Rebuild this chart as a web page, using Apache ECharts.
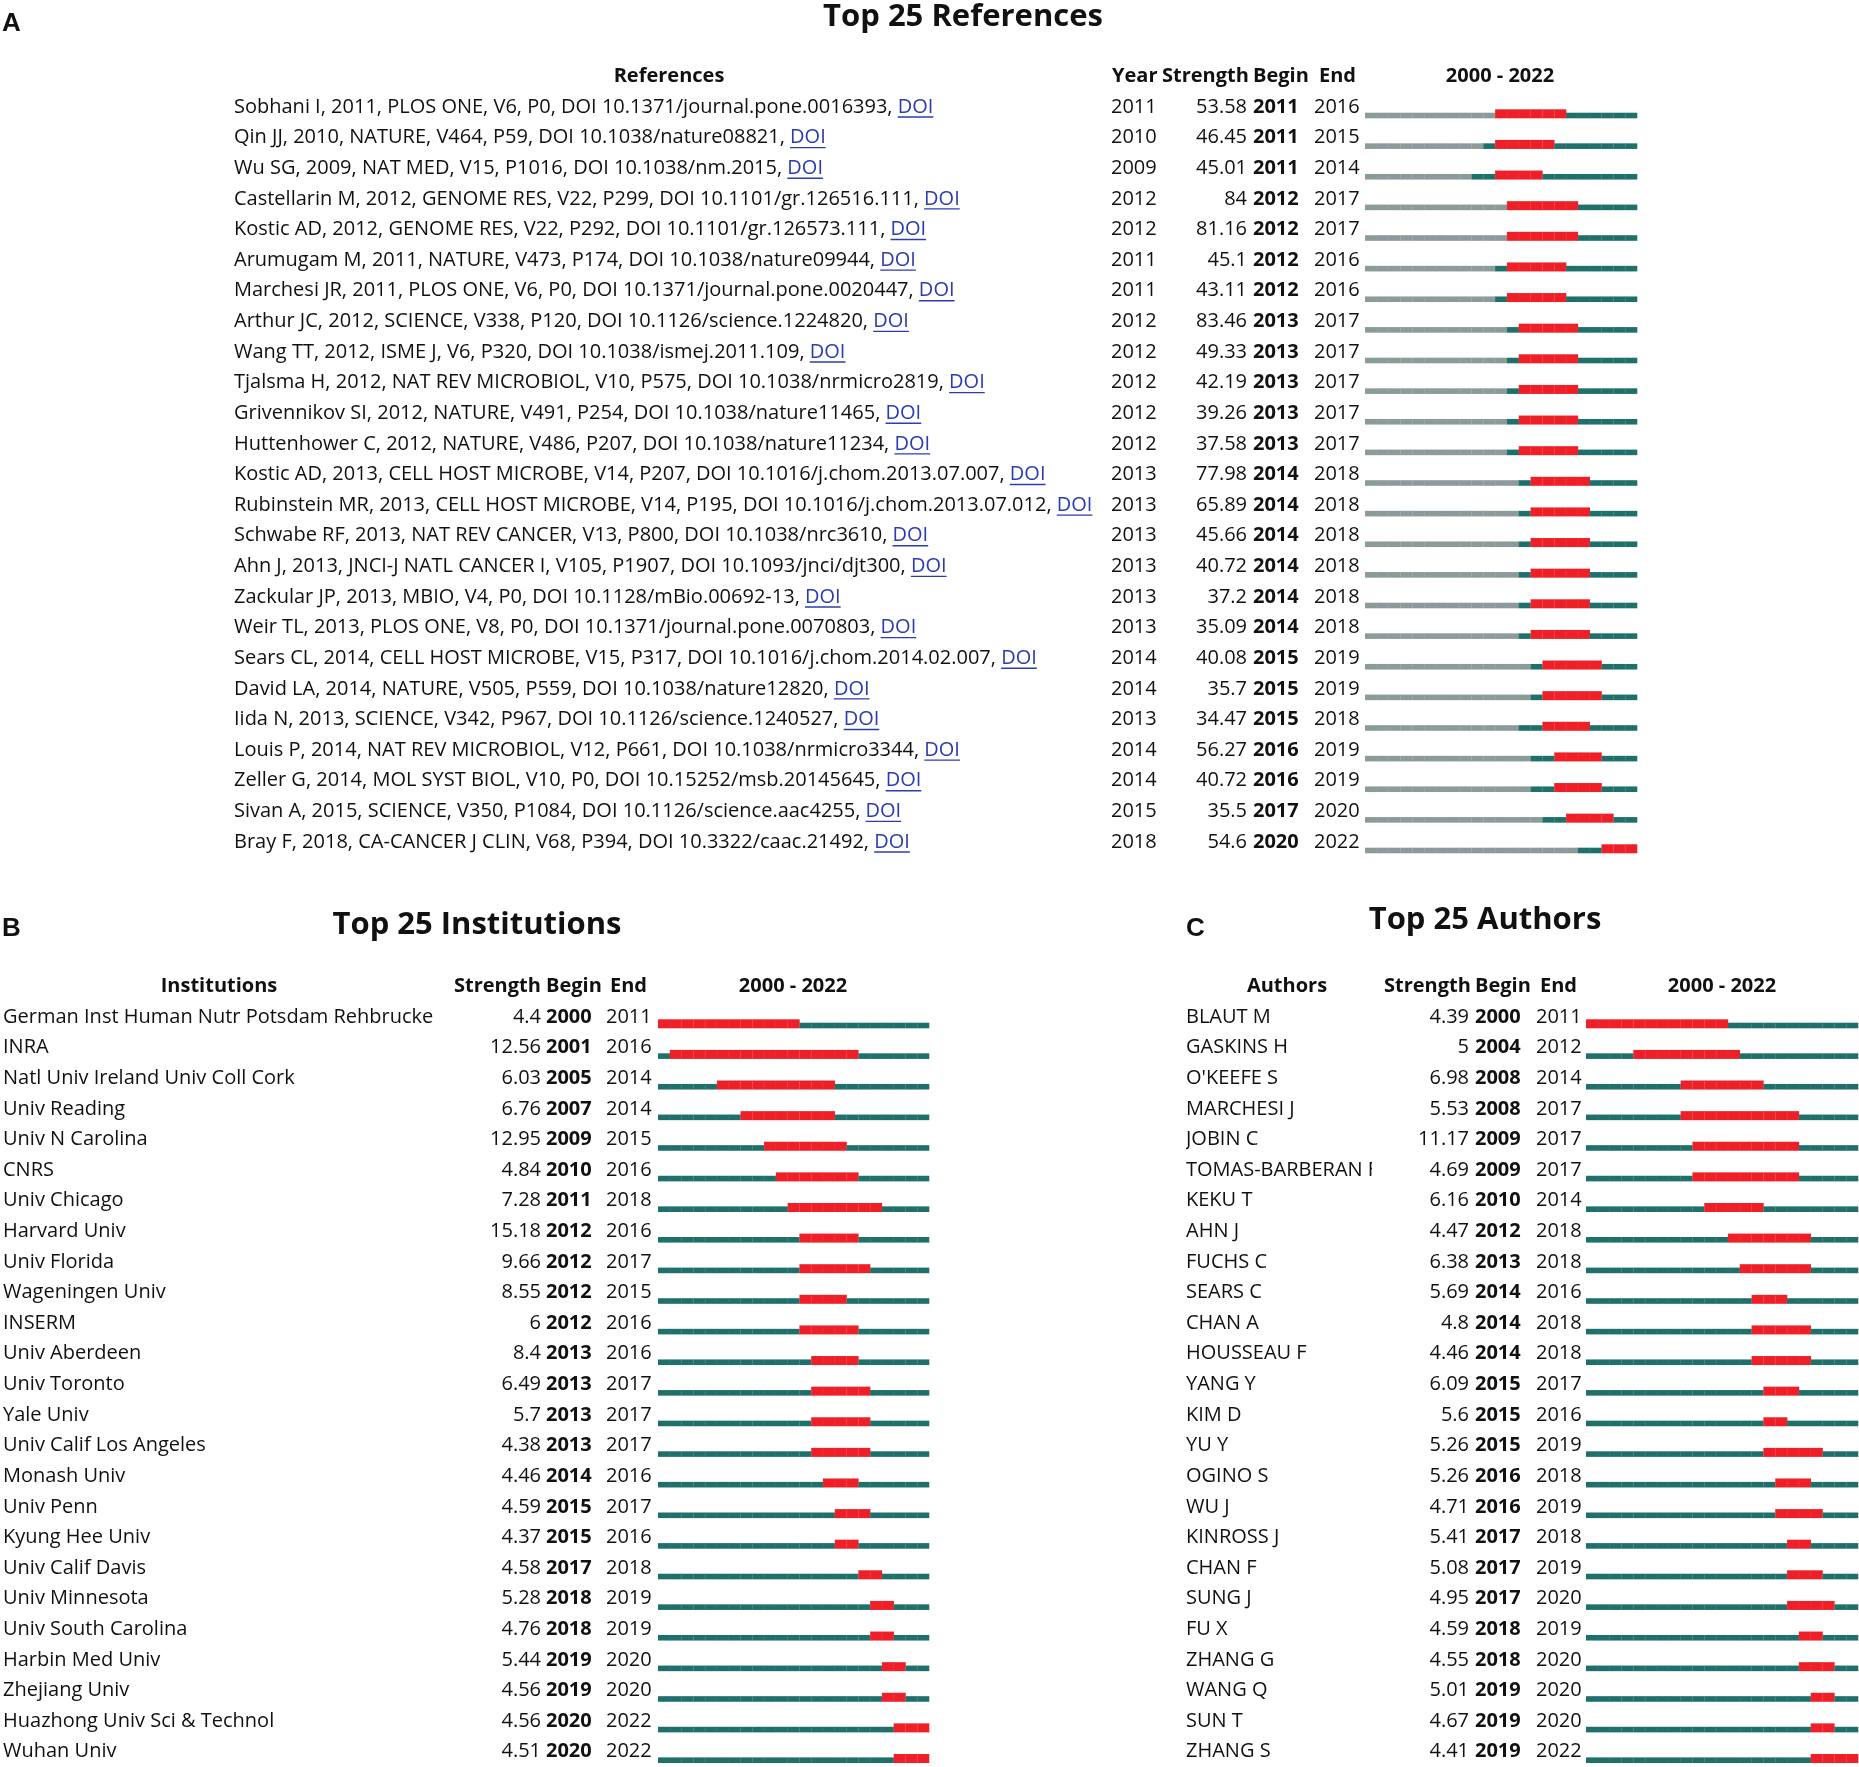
<!DOCTYPE html>
<html><head><meta charset="utf-8">
<script src="https://cdn.jsdelivr.net/npm/echarts@6/dist/echarts.min.js"></script>
<style>html,body{margin:0;padding:0;background:#fff}#c{width:1859px;height:1767px}</style>
</head><body><div id="c"></div>
<script>
// ---------------- DATA ----------------
const yearStart = 2000;
const yearEnd = 2022;

const refLabels = [
  "Sobhani I, 2011, PLOS ONE, V6, P0, DOI 10.1371/journal.pone.0016393",
  "Qin JJ, 2010, NATURE, V464, P59, DOI 10.1038/nature08821",
  "Wu SG, 2009, NAT MED, V15, P1016, DOI 10.1038/nm.2015",
  "Castellarin M, 2012, GENOME RES, V22, P299, DOI 10.1101/gr.126516.111",
  "Kostic AD, 2012, GENOME RES, V22, P292, DOI 10.1101/gr.126573.111",
  "Arumugam M, 2011, NATURE, V473, P174, DOI 10.1038/nature09944",
  "Marchesi JR, 2011, PLOS ONE, V6, P0, DOI 10.1371/journal.pone.0020447",
  "Arthur JC, 2012, SCIENCE, V338, P120, DOI 10.1126/science.1224820",
  "Wang TT, 2012, ISME J, V6, P320, DOI 10.1038/ismej.2011.109",
  "Tjalsma H, 2012, NAT REV MICROBIOL, V10, P575, DOI 10.1038/nrmicro2819",
  "Grivennikov SI, 2012, NATURE, V491, P254, DOI 10.1038/nature11465",
  "Huttenhower C, 2012, NATURE, V486, P207, DOI 10.1038/nature11234",
  "Kostic AD, 2013, CELL HOST MICROBE, V14, P207, DOI 10.1016/j.chom.2013.07.007",
  "Rubinstein MR, 2013, CELL HOST MICROBE, V14, P195, DOI 10.1016/j.chom.2013.07.012",
  "Schwabe RF, 2013, NAT REV CANCER, V13, P800, DOI 10.1038/nrc3610",
  "Ahn J, 2013, JNCI-J NATL CANCER I, V105, P1907, DOI 10.1093/jnci/djt300",
  "Zackular JP, 2013, MBIO, V4, P0, DOI 10.1128/mBio.00692-13",
  "Weir TL, 2013, PLOS ONE, V8, P0, DOI 10.1371/journal.pone.0070803",
  "Sears CL, 2014, CELL HOST MICROBE, V15, P317, DOI 10.1016/j.chom.2014.02.007",
  "David LA, 2014, NATURE, V505, P559, DOI 10.1038/nature12820",
  "Iida N, 2013, SCIENCE, V342, P967, DOI 10.1126/science.1240527",
  "Louis P, 2014, NAT REV MICROBIOL, V12, P661, DOI 10.1038/nrmicro3344",
  "Zeller G, 2014, MOL SYST BIOL, V10, P0, DOI 10.15252/msb.20145645",
  "Sivan A, 2015, SCIENCE, V350, P1084, DOI 10.1126/science.aac4255",
  "Bray F, 2018, CA-CANCER J CLIN, V68, P394, DOI 10.3322/caac.21492"
];
const refYear = [2011,2010,2009,2012,2012,2011,2011,2012,2012,2012,2012,2012,2013,2013,2013,2013,2013,2013,2014,2014,2013,2014,2014,2015,2018];
const refStrength = [53.58,46.45,45.01,84,81.16,45.1,43.11,83.46,49.33,42.19,39.26,37.58,77.98,65.89,45.66,40.72,37.2,35.09,40.08,35.7,34.47,56.27,40.72,35.5,54.6];
const refBegin = [2011,2011,2011,2012,2012,2012,2012,2013,2013,2013,2013,2013,2014,2014,2014,2014,2014,2014,2015,2015,2015,2016,2016,2017,2020];
const refEnd = [2016,2015,2014,2017,2017,2016,2016,2017,2017,2017,2017,2017,2018,2018,2018,2018,2018,2018,2019,2019,2018,2019,2019,2020,2022];

const instLabels = [
  "German Inst Human Nutr Potsdam Rehbrucke","INRA","Natl Univ Ireland Univ Coll Cork","Univ Reading",
  "Univ N Carolina","CNRS","Univ Chicago","Harvard Univ","Univ Florida","Wageningen Univ","INSERM",
  "Univ Aberdeen","Univ Toronto","Yale Univ","Univ Calif Los Angeles","Monash Univ","Univ Penn",
  "Kyung Hee Univ","Univ Calif Davis","Univ Minnesota","Univ South Carolina","Harbin Med Univ",
  "Zhejiang Univ","Huazhong Univ Sci & Technol","Wuhan Univ"
];
const instStrength = [4.4,12.56,6.03,6.76,12.95,4.84,7.28,15.18,9.66,8.55,6,8.4,6.49,5.7,4.38,4.46,4.59,4.37,4.58,5.28,4.76,5.44,4.56,4.56,4.51];
const instBegin = [2000,2001,2005,2007,2009,2010,2011,2012,2012,2012,2012,2013,2013,2013,2013,2014,2015,2015,2017,2018,2018,2019,2019,2020,2020];
const instEnd = [2011,2016,2014,2014,2015,2016,2018,2016,2017,2015,2016,2016,2017,2017,2017,2016,2017,2016,2018,2019,2019,2020,2020,2022,2022];

const authLabels = [
  "BLAUT M","GASKINS H","O'KEEFE S","MARCHESI J","JOBIN C","TOMAS-BARBERAN F","KEKU T","AHN J",
  "FUCHS C","SEARS C","CHAN A","HOUSSEAU F","YANG Y","KIM D","YU Y","OGINO S","WU J","KINROSS J",
  "CHAN F","SUNG J","FU X","ZHANG G","WANG Q","SUN T","ZHANG S"
];
const authStrength = [4.39,5,6.98,5.53,11.17,4.69,6.16,4.47,6.38,5.69,4.8,4.46,6.09,5.6,5.26,5.26,4.71,5.41,5.08,4.95,4.59,4.55,5.01,4.67,4.41];
const authBegin = [2000,2004,2008,2008,2009,2009,2010,2012,2013,2014,2014,2014,2015,2015,2015,2016,2016,2017,2017,2017,2018,2018,2019,2019,2019];
const authEnd = [2011,2012,2014,2017,2017,2017,2014,2018,2018,2016,2018,2018,2017,2016,2019,2018,2019,2018,2019,2020,2019,2020,2020,2020,2022];

// ---------------- STYLE / LAYOUT ----------------
const FONT = '"Open Sans", "Noto Sans", sans-serif';
const FS = 20;
const RED = '#ee1f26', TEAL = '#1f6f6b', GRAY = '#8b9b9a', INK = '#111', LINK = '#2b3cb0';

const measureCtx = document.createElement('canvas').getContext('2d');
function textW(t, size, weight) {
  measureCtx.font = (weight || 'normal') + ' ' + size + 'px ' + FONT;
  return measureCtx.measureText(t).width;
}

const panels = [
  { key:'A', labels: refLabels, pub: refYear, strength: refStrength, begin: refBegin, end: refEnd,
    grid: {left:1365, width:272, top:91.7, height:765.6},
    labelX: 234, yearX: 1111, strengthR: 1247, beginX: 1253, endX: 1314, doi: true },
  { key:'B', labels: instLabels, pub: null, strength: instStrength, begin: instBegin, end: instEnd,
    grid: {left:658, width:271, top:1001.7, height:767},
    labelX: 3, strengthR: 541, beginX: 546, endX: 606 },
  { key:'C', labels: authLabels, pub: null, strength: authStrength, begin: authBegin, end: authEnd,
    grid: {left:1586, width:272, top:1001.7, height:767},
    labelX: 1186, labelClip: 186, strengthR: 1469, beginX: 1475, endX: 1536 }
];

function txt(x, y, t, opt) {
  opt = opt || {};
  return {
    type: 'text',
    style: {
      x: x, y: y, text: t, fill: opt.fill || INK,
      font: (opt.weight || 'normal') + ' ' + (opt.size || FS) + 'px ' + (opt.family || FONT),
      align: opt.align || 'left', verticalAlign: 'middle'
    }
  };
}

function makeSeries(p, gi) {
  return {
    type: 'custom', xAxisIndex: gi, yAxisIndex: gi, silent: true,
    data: p.labels.map((l, i) => [p.begin[i], p.end[i] + 1, i]),
    encode: { x: [0, 1], y: 2 },
    renderItem: function (params, api) {
      const i = params.dataIndex;
      const yc = api.coord([yearStart, i])[1];
      const ch = [];
      const lab = p.doi ? p.labels[i] + ', ' : p.labels[i];
      if (p.labelClip) {
        ch.push({
          type: 'group',
          clipPath: { type: 'rect', shape: { x: p.labelX, y: yc - 16, width: p.labelClip, height: 32 } },
          children: [txt(p.labelX, yc, lab)]
        });
      } else {
        ch.push(txt(p.labelX, yc, lab));
      }
      if (p.doi) {
        const w = textW(lab, FS);
        const dw = textW('DOI', FS);
        ch.push(txt(p.labelX + w, yc, 'DOI', { fill: LINK }));
        ch.push({ type: 'line', shape: { x1: p.labelX + w, y1: yc + 10, x2: p.labelX + w + dw, y2: yc + 10 },
                  style: { stroke: LINK, lineWidth: 1.3 } });
      }
      if (p.pub) ch.push(txt(p.yearX, yc, String(p.pub[i])));
      ch.push(txt(p.strengthR, yc, String(p.strength[i]), { align: 'right' }));
      ch.push(txt(p.beginX, yc, String(p.begin[i]), { weight: 'bold' }));
      ch.push(txt(p.endX, yc, String(p.end[i])));
      const base = yc + 11.3;
      for (let yr = yearStart; yr <= yearEnd; yr++) {
        const x0 = api.coord([yr, i])[0];
        const x1 = api.coord([yr + 1, i])[0];
        const isRed = yr >= p.begin[i] && yr <= p.end[i];
        const color = isRed ? RED : ((p.pub && yr < p.pub[i]) ? GRAY : TEAL);
        const h = isRed ? 9 : 5.6;
        ch.push({ type: 'rect', shape: { x: x0, y: base - h, width: x1 - x0 + 0.3, height: h },
                  style: { fill: color } });
        if (yr > yearStart) {
          ch.push({ type: 'line', shape: { x1: x0, y1: base - h + 0.5, x2: x0, y2: base - 0.5 },
                    style: { stroke: 'rgba(255,255,255,0.10)', lineWidth: 0.8 } });
        }
      }
      return { type: 'group', children: ch };
    }
  };
}

const grids = panels.map(p => Object.assign({ containLabel: false, show: false }, p.grid));
const xAxes = panels.map((p, gi) => ({ type: 'value', gridIndex: gi, min: yearStart, max: yearEnd + 1, show: false }));
const yAxes = panels.map((p, gi) => ({ type: 'category', gridIndex: gi, inverse: true, show: false,
  data: p.labels.map((l, i) => i) }));

const H = { weight: 'bold' };
const LF = { weight: 'bold', size: 26, family: '"Liberation Sans", Arial, sans-serif' };
const graphics = [
  txt(2, 24, 'A', LF),
  txt(2, 929, 'B', LF),
  txt(1186, 929, 'C', LF),
  txt(963, 17, 'Top 25 References', { weight: 'bold', size: 31, align: 'center' }),
  txt(477, 925, 'Top 25 Institutions', { weight: 'bold', size: 31, align: 'center' }),
  txt(1485, 920, 'Top 25 Authors', { weight: 'bold', size: 31, align: 'center' }),
  txt(669, 76, 'References', { weight: 'bold', align: 'center' }),
  txt(1112, 76, 'Year', H),
  txt(1162, 76, 'Strength', H),
  txt(1253, 76, 'Begin', H),
  txt(1319, 76, 'End', H),
  txt(1500, 76, '2000 - 2022', { weight: 'bold', align: 'center' }),
  txt(219, 986, 'Institutions', { weight: 'bold', align: 'center' }),
  txt(454, 986, 'Strength', H),
  txt(546, 986, 'Begin', H),
  txt(610, 986, 'End', H),
  txt(793, 986, '2000 - 2022', { weight: 'bold', align: 'center' }),
  txt(1287, 986, 'Authors', { weight: 'bold', align: 'center' }),
  txt(1384, 986, 'Strength', H),
  txt(1475, 986, 'Begin', H),
  txt(1540, 986, 'End', H),
  txt(1722, 986, '2000 - 2022', { weight: 'bold', align: 'center' })
];

const chart = echarts.init(document.getElementById('c'), null, { renderer: 'canvas' });
chart.setOption({
  backgroundColor: '#fff',
  animation: false,
  grid: grids,
  xAxis: xAxes,
  yAxis: yAxes,
  graphic: graphics,
  series: panels.map((p, gi) => makeSeries(p, gi))
});
</script>
</body></html>
